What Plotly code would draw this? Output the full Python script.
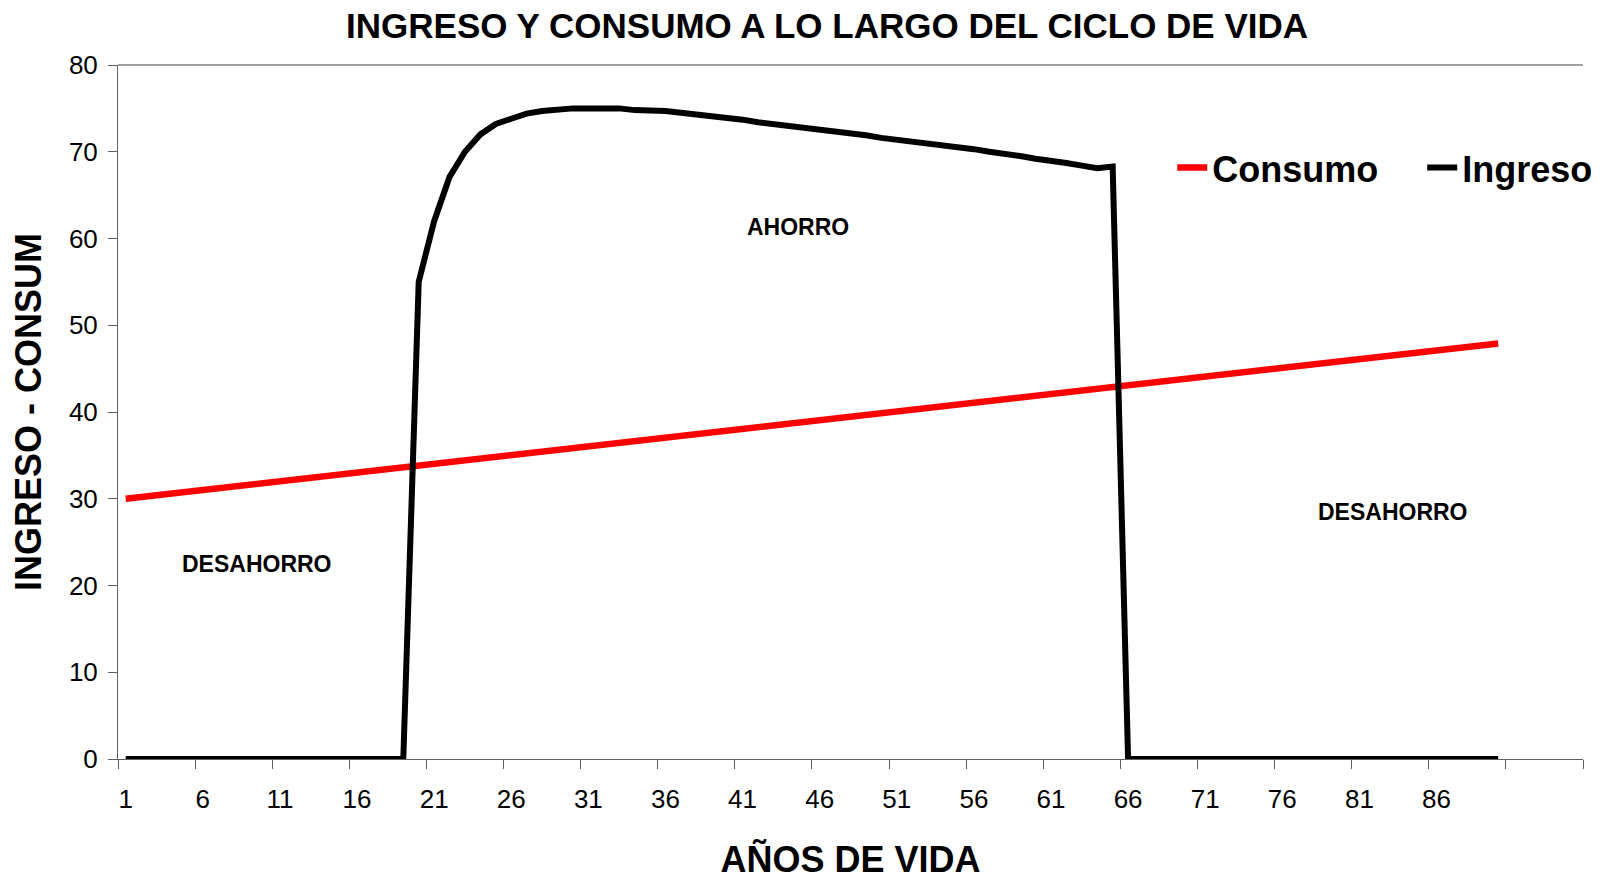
import plotly.graph_objects as go

# ---- data ----
years = list(range(1, 91))
tick_labels = ["1", "6", "11", "16", "21", "26", "31", "36", "41", "46", "51", "56", "61", "66", "71", "76", "81", "86"]
tick_positions = [1, 6, 11, 16, 21, 26, 31, 36, 41, 46, 51, 56, 61, 66, 71, 76, 81, 86]
tick_marks = [0.5 + 5 * i for i in range(20)]

consumo = [
    30.0, 30.2, 30.4, 30.6, 30.8, 31.0, 31.2, 31.4, 31.6, 31.8,
    32.0, 32.2, 32.4, 32.6, 32.8, 33.0, 33.2, 33.4, 33.6, 33.8,
    34.0, 34.2, 34.4, 34.6, 34.8, 35.0, 35.2, 35.4, 35.6, 35.8,
    36.0, 36.2, 36.4, 36.6, 36.8, 37.0, 37.2, 37.4, 37.6, 37.8,
    38.0, 38.2, 38.4, 38.6, 38.8, 39.0, 39.2, 39.4, 39.6, 39.8,
    40.0, 40.2, 40.4, 40.6, 40.8, 41.0, 41.2, 41.4, 41.6, 41.8,
    42.0, 42.2, 42.4, 42.6, 42.8, 43.0, 43.2, 43.4, 43.6, 43.8,
    44.0, 44.2, 44.4, 44.6, 44.8, 45.0, 45.2, 45.4, 45.6, 45.8,
    46.0, 46.2, 46.4, 46.6, 46.8, 47.0, 47.2, 47.4, 47.6, 47.9,
]

ingreso = [
    0, 0, 0, 0, 0, 0, 0, 0, 0, 0,
    0, 0, 0, 0, 0, 0, 0, 0, 0, 55.0,
    62.0, 67.1, 70.0, 72.0, 73.2, 73.8, 74.4, 74.7, 74.9, 75.0,
    75.0, 75.0, 75.0, 74.8, 74.8, 74.7, 74.5, 74.3, 74.2, 74.0,
    73.7, 73.4, 73.2, 73.0, 72.8, 72.5, 72.3, 72.1, 71.9, 71.6,
    71.4, 71.2, 70.9, 70.7, 70.5, 70.3, 70.0, 69.8, 69.5, 69.2,
    69.0, 68.7, 68.4, 68.1, 68.3, 0, 0, 0, 0, 0,
    0, 0, 0, 0, 0, 0, 0, 0, 0, 0,
    0, 0, 0, 0, 0, 0, 0, 0, 0, 0,
]

FONT = "Liberation Sans, Arial, sans-serif"

fig = go.Figure()
fig.add_trace(go.Scatter(x=years, y=consumo, mode="lines", name="Consumo",
                         line=dict(color="#FF0000", width=6.5)))
fig.add_trace(go.Scatter(x=years, y=ingreso, mode="lines", name="Ingreso",
                         line=dict(color="#000000", width=6)))

fig.update_layout(
    width=1611, height=880,
    margin=dict(l=118, r=28, t=65, b=121, autoexpand=False),
    paper_bgcolor="white", plot_bgcolor="white",
    font=dict(family=FONT, color="black"),
    title=dict(text="<b>INGRESO Y CONSUMO A LO LARGO DEL CICLO DE VIDA</b>",
               x=0.5134, xanchor="center", y=0.9705, yanchor="middle",
               font=dict(size=35, family=FONT, color="black")),
    showlegend=True,
    legend=dict(orientation="h", x=0.7196, xanchor="left", y=0.852, yanchor="middle",
                font=dict(size=36, family=FONT, color="black", weight="bold"),
                bgcolor="rgba(0,0,0,0)", entrywidth=205, entrywidthmode="pixels"),
)

fig.update_xaxes(
    range=[0.5, 95.5], tickmode="array", tickvals=tick_positions, ticktext=tick_labels,
    ticks="", showgrid=False, zeroline=False, automargin=False,
    showline=True, linecolor="#606060", linewidth=1,
    tickfont=dict(size=26, family=FONT, color="black"), ticklabelstandoff=17,
    minor=dict(tickmode="array", tickvals=tick_marks, ticks="outside", ticklen=9,
               tickcolor="#606060", tickwidth=1, showgrid=False),
    title=dict(text="<b>AÑOS DE VIDA</b>", standoff=47,
               font=dict(size=36, family=FONT, color="black")),
)
fig.update_yaxes(
    range=[0, 80], tickmode="linear", tick0=0, dtick=10,
    ticks="outside", ticklen=9, tickcolor="#606060", tickwidth=1,
    showgrid=False, zeroline=False, automargin=False,
    showline=True, linecolor="#606060", linewidth=1,
    tickfont=dict(size=26, family=FONT, color="black"), ticklabelstandoff=5,
    title=dict(text="<b>INGRESO - CONSUM</b>", standoff=16,
               font=dict(size=36, family=FONT, color="black")),
)

# plot-area top border
fig.add_shape(type="line", xref="x domain", yref="y domain", x0=0, x1=1, y0=1, y1=1,
              line=dict(color="#A0A0A0", width=2))

ann_font = dict(size=23, family=FONT, color="black")
fig.add_annotation(x=44.6, y=61.3, text="<b>AHORRO</b>", showarrow=False, font=ann_font)
fig.add_annotation(x=9.5, y=22.5, text="<b>DESAHORRO</b>", showarrow=False, font=ann_font)
fig.add_annotation(x=83.2, y=28.5, text="<b>DESAHORRO</b>", showarrow=False, font=ann_font)

fig.write_html("out.html", config={"displayModeBar": False},
               post_script="document.body.style.margin='0';")
